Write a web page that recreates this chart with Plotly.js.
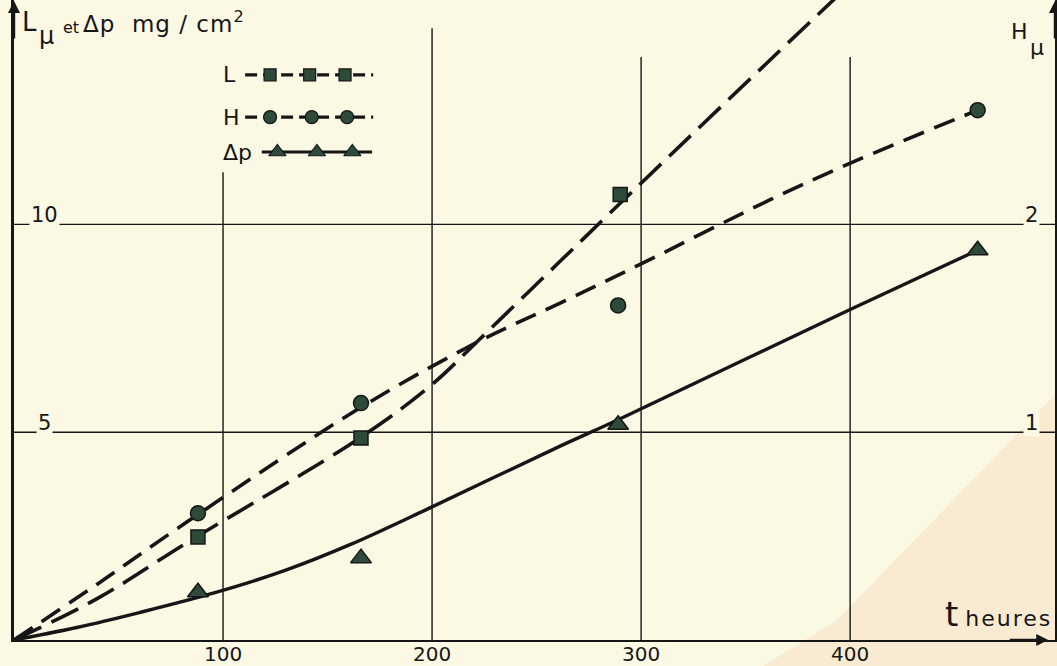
<!DOCTYPE html>
<html>
<head>
<meta charset="utf-8">
<script src="https://cdn.plot.ly/plotly-3.0.1.min.js"></script>
<style>
html,body{margin:0;padding:0;background:#fbf8e4;}
#chart{width:1057px;height:666px;}
</style>
</head>
<body>
<div id="chart"></div>
<script>
// ---- measured points ----
var tPts = [88, 166, 289, 461];
var L_pts = [2.48, 4.86, 10.72];          // L (µ), left axis
var L_t = [88, 166, 290];
var H_pts = [0.61, 1.14, 1.61, 2.55];     // H (µ), right axis
var dP_pts = [1.15, 1.97, 5.18, 9.38];    // Δp (mg/cm²), left axis

// ---- drawn (fitted) curves ----
var L_curve_t = [0, 40, 83, 166, 200, 223, 261, 296, 392, 405];
var L_curve_y = [0, 1.0, 2.35, 4.88, 6.15, 7.25, 9.1, 10.8, 15.4, 16.0];
var H_curve_t = [0, 40, 83, 166, 223, 261, 300, 362, 399, 461];
var H_curve_y = [0, 0.27, 0.57, 1.12, 1.44, 1.62, 1.81, 2.12, 2.29, 2.55];
var dP_curve_t = [0, 30, 60, 97, 130, 161, 199, 261, 289, 399, 461];
var dP_curve_y = [0, 0.30, 0.66, 1.15, 1.68, 2.30, 3.18, 4.66, 5.30, 7.93, 9.38];

// ---- axes ----
var xTicks = [100, 200, 300, 400];
var yTicks = [5, 10];
var y2Ticks = [1, 2];

// ---- legend samples (paper coords) ----
var legLineX = [0.222, 0.345];
var legSqX = [0.246, 0.284, 0.318];
var legCiX = [0.246, 0.286, 0.320];
var legTrX = [0.253, 0.291, 0.325];
var legRowsY = [0.883, 0.817, 0.7625];
var legLabels = ['L', 'H', 'Δp'];
var gridTops = [0.731, 0.956, 0.911, 0.911];

var ink = '#161616';
var fillM = '#2e4a3a';
var FONT = 'DejaVu Sans, sans-serif';
var bg = '#fbf8e4';

function rep(v, n){ var a=[]; for(var i=0;i<n;i++) a.push(v); return a; }

var traces = [
  {x: L_curve_t, y: L_curve_y, mode:'lines', line:{color:ink, width:3.6, dash:'30px,11px', shape:'spline', smoothing:1}, xaxis:'x', yaxis:'y', hoverinfo:'skip'},
  {x: H_curve_t, y: H_curve_y, mode:'lines', line:{color:ink, width:3.6, dash:'22px,11px', shape:'spline', smoothing:1}, xaxis:'x', yaxis:'y2', hoverinfo:'skip'},
  {x: dP_curve_t, y: dP_curve_y, mode:'lines', line:{color:ink, width:3.4, shape:'spline', smoothing:1}, xaxis:'x', yaxis:'y', hoverinfo:'skip'},
  {x: L_t, y: L_pts, mode:'markers', marker:{symbol:'square', size:14, color:fillM, line:{color:ink, width:1.5}}, xaxis:'x', yaxis:'y'},
  {x: tPts, y: H_pts, mode:'markers', marker:{symbol:'circle', size:15, color:fillM, line:{color:ink, width:1.5}}, xaxis:'x', yaxis:'y2'},
  {x: tPts, y: dP_pts, mode:'markers', marker:{symbol:'triangle-up', size:18, color:fillM, line:{color:ink, width:1.5}}, xaxis:'x', yaxis:'y'},
  // legend
  {x: legLineX, y: rep(legRowsY[0],2), mode:'lines', line:{color:ink, width:3.4, dash:'12px,6px'}, xaxis:'x3', yaxis:'y3'},
  {x: legSqX, y: rep(legRowsY[0],3), mode:'markers', marker:{symbol:'square', size:12, color:fillM, line:{color:ink, width:1.2}}, xaxis:'x3', yaxis:'y3'},
  {x: legLineX, y: rep(legRowsY[1],2), mode:'lines', line:{color:ink, width:3.4, dash:'12px,6px'}, xaxis:'x3', yaxis:'y3'},
  {x: legCiX, y: rep(legRowsY[1],3), mode:'markers', marker:{symbol:'circle', size:13, color:fillM, line:{color:ink, width:1.2}}, xaxis:'x3', yaxis:'y3'},
  {x: [0.238, 0.344], y: rep(legRowsY[2],2), mode:'lines', line:{color:ink, width:3.2}, xaxis:'x3', yaxis:'y3'},
  {x: legTrX, y: rep(legRowsY[2],3), mode:'markers', marker:{symbol:'triangle-up', size:15, color:fillM, line:{color:ink, width:1.2}}, xaxis:'x3', yaxis:'y3'}
];

var shapes = [];
// faint peach paper patch (photo tint)
shapes.push({type:'path', xref:'paper', yref:'paper', layer:'below',
  path:'M 0.71 -0.05 L 0.79 0.03 L 1.01 0.40 L 1.01 -0.05 Z',
  fillcolor:'rgba(240,196,150,0.24)', line:{width:0}});
xTicks.forEach(function(t, i){
  shapes.push({type:'line', xref:'x', yref:'paper', x0:t, x1:t, y0:0, y1:gridTops[i], line:{color:ink, width:1.4}, layer:'below'});
});
yTicks.forEach(function(v){
  shapes.push({type:'line', xref:'paper', yref:'y', x0:0, x1:1, y0:v, y1:v, line:{color:ink, width:1.4}, layer:'below'});
});

var annotations = [];
function txt(x, y, s, size, extra){
  var a = {xref:'paper', yref:'paper', x:x, y:y, text:s, showarrow:false, xanchor:'left', yanchor:'middle', font:{family:FONT, size:size, color:ink}};
  for (var k in (extra||{})) a[k] = extra[k];
  annotations.push(a);
}
xTicks.forEach(function(t){
  annotations.push({xref:'x', yref:'paper', x:t, y:0, text:String(t), showarrow:false, xanchor:'center', yanchor:'top', font:{family:FONT, size:20, color:ink}});
});
yTicks.forEach(function(v){
  annotations.push({xref:'paper', yref:'y', x:0.029, y:v, text:String(v), showarrow:false, xanchor:'center', yanchor:'bottom', yshift:-5, bgcolor:bg, borderpad:1, font:{family:FONT, size:21, color:ink}});
});
y2Ticks.forEach(function(v){
  annotations.push({xref:'paper', yref:'y2', x:0.977, y:v, text:String(v), showarrow:false, xanchor:'center', yanchor:'bottom', yshift:-5, bgcolor:bg, borderpad:1, font:{family:FONT, size:21, color:ink}});
});
legLabels.forEach(function(s, i){
  txt(0.199, legRowsY[i], s, 22);
});
// left axis title pieces
txt(0.006, 0.966, 'L', 26);
txt(0.022, 0.943, 'μ', 24);
txt(0.045, 0.957, 'et', 16);
txt(0.064, 0.966, '<span style="letter-spacing:1px">Δp  mg / cm<sup>2</sup></span>', 23);
// right axis title pieces
txt(0.9555, 0.951, 'H', 22);
txt(0.9745, 0.925, 'μ', 22);
// x axis title
annotations.push({xref:'paper', yref:'paper', x:0.9995, y:0.0, yanchor:'bottom', xanchor:'right', yshift:4, showarrow:false,
  text:'<span style="font-size:34px">t</span> <span style="letter-spacing:2px">heures</span>', font:{family:FONT, size:22, color:ink}});
// arrows
annotations.push({xref:'paper', yref:'paper', x:0, y:1, ax:0, ay:40, text:'', showarrow:true, arrowhead:2, arrowsize:1, arrowwidth:2.4, arrowcolor:ink});
annotations.push({xref:'paper', yref:'paper', x:0.9935, y:0, ax:-40, ay:0, text:'', showarrow:true, arrowhead:2, arrowsize:1, arrowwidth:2.4, arrowcolor:ink});
annotations.push({xref:'paper', yref:'paper', x:1, y:1, ax:0, ay:40, text:'', showarrow:true, arrowhead:2, arrowsize:1, arrowwidth:2.4, arrowcolor:ink});

var layout = {
  width:1057, height:666,
  margin:{l:14, r:2, t:0, b:26},
  paper_bgcolor:bg, plot_bgcolor:bg,
  showlegend:false,
  xaxis:{range:[0,498], tickvals:xTicks, showticklabels:false, showgrid:false, zeroline:false,
    showline:true, linecolor:ink, linewidth:2.4, ticks:''},
  yaxis:{range:[0,15.4], tickvals:yTicks, showticklabels:false, showgrid:false, zeroline:false,
    showline:true, linecolor:ink, linewidth:2.6, ticks:''},
  yaxis2:{range:[0,3.08], overlaying:'y', side:'right', showticklabels:false, showgrid:false, zeroline:false,
    showline:true, linecolor:ink, linewidth:2.4, ticks:''},
  xaxis3:{domain:[0,1], range:[0,1], visible:false, fixedrange:true, anchor:'y3', overlaying:'x'},
  yaxis3:{domain:[0,1], range:[0,1], visible:false, fixedrange:true, anchor:'x3', overlaying:'y'},
  shapes:shapes,
  annotations:annotations
};

Plotly.newPlot('chart', traces, layout, {displayModeBar:false, staticPlot:true});
</script>
</body>
</html>
